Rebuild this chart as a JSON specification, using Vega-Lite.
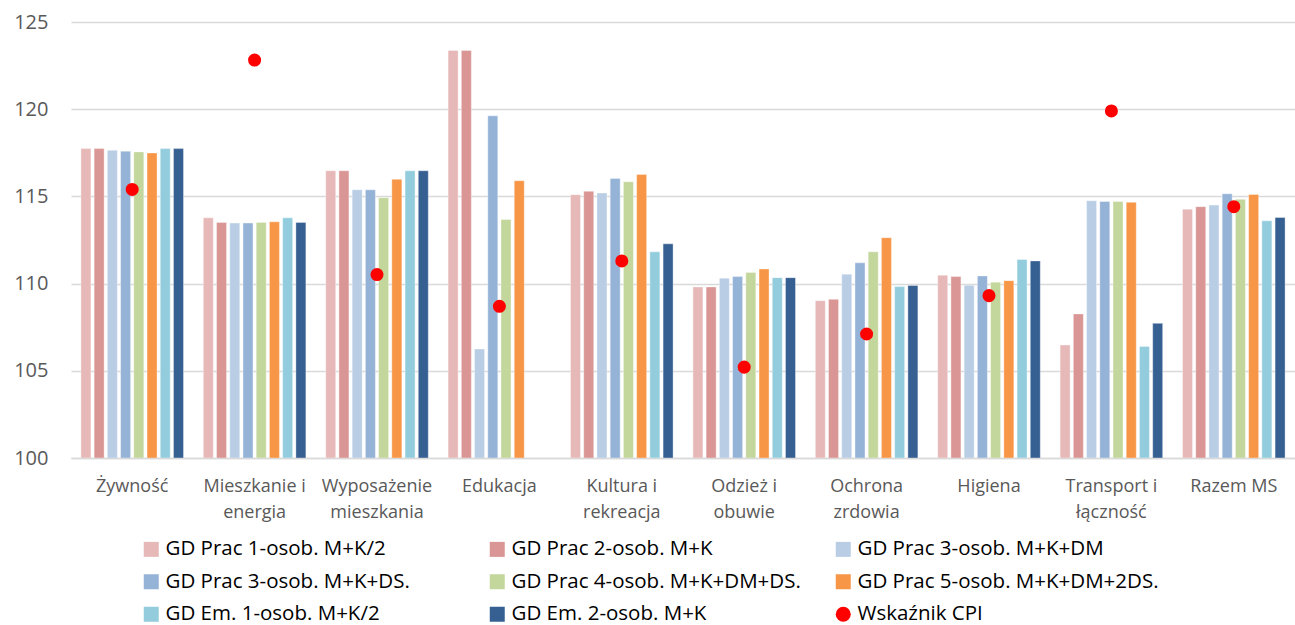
{
  "$schema": "https://vega.github.io/schema/vega-lite/v6.json",
  "width": 1224,
  "height": 436,
  "autosize": {"type": "none"},
  "padding": {"left": 71, "top": 22, "right": 0, "bottom": 167},
  "background": "white",
  "config": {"view": {"stroke": null}, "font": "Open Sans"},
  "data": {"values": [
    {"category": "Żywność", "series": "GD Prac 1-osob. M+K/2", "value": 117.74},
    {"category": "Żywność", "series": "GD Prac 2-osob. M+K", "value": 117.74},
    {"category": "Żywność", "series": "GD Prac 3-osob. M+K+DM", "value": 117.64},
    {"category": "Żywność", "series": "GD Prac 3-osob. M+K+DS.", "value": 117.59},
    {"category": "Żywność", "series": "GD Prac 4-osob. M+K+DM+DS.", "value": 117.55},
    {"category": "Żywność", "series": "GD Prac 5-osob. M+K+DM+2DS.", "value": 117.49},
    {"category": "Żywność", "series": "GD Em. 1-osob. M+K/2", "value": 117.74},
    {"category": "Żywność", "series": "GD Em. 2-osob. M+K", "value": 117.74},
    {"category": "Żywność", "series": "Wskaźnik CPI", "value": 115.40},
    {"category": "Mieszkanie i energia", "series": "GD Prac 1-osob. M+K/2", "value": 113.77},
    {"category": "Mieszkanie i energia", "series": "GD Prac 2-osob. M+K", "value": 113.51},
    {"category": "Mieszkanie i energia", "series": "GD Prac 3-osob. M+K+DM", "value": 113.47},
    {"category": "Mieszkanie i energia", "series": "GD Prac 3-osob. M+K+DS.", "value": 113.47},
    {"category": "Mieszkanie i energia", "series": "GD Prac 4-osob. M+K+DM+DS.", "value": 113.51},
    {"category": "Mieszkanie i energia", "series": "GD Prac 5-osob. M+K+DM+2DS.", "value": 113.54},
    {"category": "Mieszkanie i energia", "series": "GD Em. 1-osob. M+K/2", "value": 113.77},
    {"category": "Mieszkanie i energia", "series": "GD Em. 2-osob. M+K", "value": 113.51},
    {"category": "Mieszkanie i energia", "series": "Wskaźnik CPI", "value": 122.82},
    {"category": "Wyposażenie mieszkania", "series": "GD Prac 1-osob. M+K/2", "value": 116.47},
    {"category": "Wyposażenie mieszkania", "series": "GD Prac 2-osob. M+K", "value": 116.47},
    {"category": "Wyposażenie mieszkania", "series": "GD Prac 3-osob. M+K+DM", "value": 115.38},
    {"category": "Wyposażenie mieszkania", "series": "GD Prac 3-osob. M+K+DS.", "value": 115.38},
    {"category": "Wyposażenie mieszkania", "series": "GD Prac 4-osob. M+K+DM+DS.", "value": 114.92},
    {"category": "Wyposażenie mieszkania", "series": "GD Prac 5-osob. M+K+DM+2DS.", "value": 115.98},
    {"category": "Wyposażenie mieszkania", "series": "GD Em. 1-osob. M+K/2", "value": 116.47},
    {"category": "Wyposażenie mieszkania", "series": "GD Em. 2-osob. M+K", "value": 116.47},
    {"category": "Wyposażenie mieszkania", "series": "Wskaźnik CPI", "value": 110.52},
    {"category": "Edukacja", "series": "GD Prac 1-osob. M+K/2", "value": 123.37},
    {"category": "Edukacja", "series": "GD Prac 2-osob. M+K", "value": 123.37},
    {"category": "Edukacja", "series": "GD Prac 3-osob. M+K+DM", "value": 106.25},
    {"category": "Edukacja", "series": "GD Prac 3-osob. M+K+DS.", "value": 119.62},
    {"category": "Edukacja", "series": "GD Prac 4-osob. M+K+DM+DS.", "value": 113.68},
    {"category": "Edukacja", "series": "GD Prac 5-osob. M+K+DM+2DS.", "value": 115.90},
    {"category": "Edukacja", "series": "Wskaźnik CPI", "value": 108.70},
    {"category": "Kultura i rekreacja", "series": "GD Prac 1-osob. M+K/2", "value": 115.10},
    {"category": "Kultura i rekreacja", "series": "GD Prac 2-osob. M+K", "value": 115.29},
    {"category": "Kultura i rekreacja", "series": "GD Prac 3-osob. M+K+DM", "value": 115.19},
    {"category": "Kultura i rekreacja", "series": "GD Prac 3-osob. M+K+DS.", "value": 116.03},
    {"category": "Kultura i rekreacja", "series": "GD Prac 4-osob. M+K+DM+DS.", "value": 115.84},
    {"category": "Kultura i rekreacja", "series": "GD Prac 5-osob. M+K+DM+2DS.", "value": 116.26},
    {"category": "Kultura i rekreacja", "series": "GD Em. 1-osob. M+K/2", "value": 111.82},
    {"category": "Kultura i rekreacja", "series": "GD Em. 2-osob. M+K", "value": 112.28},
    {"category": "Kultura i rekreacja", "series": "Wskaźnik CPI", "value": 111.30},
    {"category": "Odzież i obuwie", "series": "GD Prac 1-osob. M+K/2", "value": 109.81},
    {"category": "Odzież i obuwie", "series": "GD Prac 2-osob. M+K", "value": 109.81},
    {"category": "Odzież i obuwie", "series": "GD Prac 3-osob. M+K+DM", "value": 110.31},
    {"category": "Odzież i obuwie", "series": "GD Prac 3-osob. M+K+DS.", "value": 110.40},
    {"category": "Odzież i obuwie", "series": "GD Prac 4-osob. M+K+DM+DS.", "value": 110.63},
    {"category": "Odzież i obuwie", "series": "GD Prac 5-osob. M+K+DM+2DS.", "value": 110.84},
    {"category": "Odzież i obuwie", "series": "GD Em. 1-osob. M+K/2", "value": 110.34},
    {"category": "Odzież i obuwie", "series": "GD Em. 2-osob. M+K", "value": 110.34},
    {"category": "Odzież i obuwie", "series": "Wskaźnik CPI", "value": 105.21},
    {"category": "Ochrona zrdowia", "series": "GD Prac 1-osob. M+K/2", "value": 109.02},
    {"category": "Ochrona zrdowia", "series": "GD Prac 2-osob. M+K", "value": 109.10},
    {"category": "Ochrona zrdowia", "series": "GD Prac 3-osob. M+K+DM", "value": 110.54},
    {"category": "Ochrona zrdowia", "series": "GD Prac 3-osob. M+K+DS.", "value": 111.19},
    {"category": "Ochrona zrdowia", "series": "GD Prac 4-osob. M+K+DM+DS.", "value": 111.82},
    {"category": "Ochrona zrdowia", "series": "GD Prac 5-osob. M+K+DM+2DS.", "value": 112.63},
    {"category": "Ochrona zrdowia", "series": "GD Em. 1-osob. M+K/2", "value": 109.83},
    {"category": "Ochrona zrdowia", "series": "GD Em. 2-osob. M+K", "value": 109.89},
    {"category": "Ochrona zrdowia", "series": "Wskaźnik CPI", "value": 107.11},
    {"category": "Higiena", "series": "GD Prac 1-osob. M+K/2", "value": 110.48},
    {"category": "Higiena", "series": "GD Prac 2-osob. M+K", "value": 110.40},
    {"category": "Higiena", "series": "GD Prac 3-osob. M+K+DM", "value": 109.90},
    {"category": "Higiena", "series": "GD Prac 3-osob. M+K+DS.", "value": 110.44},
    {"category": "Higiena", "series": "GD Prac 4-osob. M+K+DM+DS.", "value": 110.08},
    {"category": "Higiena", "series": "GD Prac 5-osob. M+K+DM+2DS.", "value": 110.17},
    {"category": "Higiena", "series": "GD Em. 1-osob. M+K/2", "value": 111.38},
    {"category": "Higiena", "series": "GD Em. 2-osob. M+K", "value": 111.30},
    {"category": "Higiena", "series": "Wskaźnik CPI", "value": 109.31},
    {"category": "Transport i łączność", "series": "GD Prac 1-osob. M+K/2", "value": 106.48},
    {"category": "Transport i łączność", "series": "GD Prac 2-osob. M+K", "value": 108.26},
    {"category": "Transport i łączność", "series": "GD Prac 3-osob. M+K+DM", "value": 114.75},
    {"category": "Transport i łączność", "series": "GD Prac 3-osob. M+K+DS.", "value": 114.71},
    {"category": "Transport i łączność", "series": "GD Prac 4-osob. M+K+DM+DS.", "value": 114.71},
    {"category": "Transport i łączność", "series": "GD Prac 5-osob. M+K+DM+2DS.", "value": 114.66},
    {"category": "Transport i łączność", "series": "GD Em. 1-osob. M+K/2", "value": 106.40},
    {"category": "Transport i łączność", "series": "GD Em. 2-osob. M+K", "value": 107.72},
    {"category": "Transport i łączność", "series": "Wskaźnik CPI", "value": 119.90},
    {"category": "Razem MS", "series": "GD Prac 1-osob. M+K/2", "value": 114.27},
    {"category": "Razem MS", "series": "GD Prac 2-osob. M+K", "value": 114.41},
    {"category": "Razem MS", "series": "GD Prac 3-osob. M+K+DM", "value": 114.50},
    {"category": "Razem MS", "series": "GD Prac 3-osob. M+K+DS.", "value": 115.15},
    {"category": "Razem MS", "series": "GD Prac 4-osob. M+K+DM+DS.", "value": 114.83},
    {"category": "Razem MS", "series": "GD Prac 5-osob. M+K+DM+2DS.", "value": 115.11},
    {"category": "Razem MS", "series": "GD Em. 1-osob. M+K/2", "value": 113.60},
    {"category": "Razem MS", "series": "GD Em. 2-osob. M+K", "value": 113.79},
    {"category": "Razem MS", "series": "Wskaźnik CPI", "value": 114.41}
  ]},
  "resolve": {"scale": {"color": "shared", "shape": "shared"}, "legend": {"color": "shared", "shape": "shared"}},
  "layer": [
    {
      "transform": [{"filter": "datum.series !== 'Wskaźnik CPI'"}],
      "mark": {"type": "bar", "clip": true, "stroke": "white", "strokeWidth": 0.6, "strokeOpacity": 0.6},
      "encoding": {
        "x": {
          "field": "category", "type": "nominal", "sort": null,
          "scale": {"paddingInner": 0.162, "paddingOuter": 0.081},
          "axis": {
            "title": null, "labelAngle": 0, "ticks": false,
            "domain": true, "domainColor": "#d9d9d9", "domainWidth": 1.5,
            "labelFontSize": 18, "labelColor": "#595959", "labelPadding": 19,
            "labelLineHeight": 26, "labelLimit": 300, "labelOverlap": false,
            "labelExpr": "datum.label == 'Razem MS' || indexof(datum.label, ' ') < 0 ? datum.label : [slice(datum.label, 0, lastindexof(datum.label, ' ')), slice(datum.label, lastindexof(datum.label, ' ') + 1)]"
          }
        },
        "xOffset": {
          "field": "series", "type": "nominal",
          "scale": {
            "domain": ["GD Prac 1-osob. M+K/2", "GD Prac 2-osob. M+K", "GD Prac 3-osob. M+K+DM", "GD Prac 3-osob. M+K+DS.", "GD Prac 4-osob. M+K+DM+DS.", "GD Prac 5-osob. M+K+DM+2DS.", "GD Em. 1-osob. M+K/2", "GD Em. 2-osob. M+K"],
            "paddingInner": 0.244, "paddingOuter": 0
          }
        },
        "y": {
          "field": "value", "type": "quantitative", "stack": null,
          "scale": {"domain": [100, 125], "zero": false, "nice": false},
          "axis": {
            "title": null, "values": [100, 105, 110, 115, 120, 125],
            "domain": false, "ticks": false,
            "grid": true, "gridColor": "#d9d9d9", "gridWidth": 1.5,
            "labelFontSize": 20, "labelColor": "#595959", "labelPadding": 23
          }
        },
        "y2": {"datum": 100},
        "color": {
          "field": "series", "type": "nominal",
          "scale": {
            "domain": ["GD Prac 1-osob. M+K/2", "GD Prac 2-osob. M+K", "GD Prac 3-osob. M+K+DM", "GD Prac 3-osob. M+K+DS.", "GD Prac 4-osob. M+K+DM+DS.", "GD Prac 5-osob. M+K+DM+2DS.", "GD Em. 1-osob. M+K/2", "GD Em. 2-osob. M+K", "Wskaźnik CPI"],
            "range": ["#E6B9B8", "#D99694", "#B9CDE5", "#95B3D7", "#C3D69B", "#F79646", "#93CDDD", "#376092", "#FF0000"]
          },
          "legend": {
            "title": null, "orient": "none", "legendX": 70, "legendY": 517,
            "direction": "horizontal", "columns": 3, "gridAlign": "all",
            "padding": 0, "columnPadding": 20, "rowPadding": 11.5,
            "symbolSize": 225, "symbolStrokeWidth": 0,
            "labelFontSize": 20.5, "labelColor": "#000000", "labelOffset": 4, "labelLimit": 500
          }
        }
      }
    },
    {
      "transform": [{"filter": "datum.series === 'Wskaźnik CPI'"}],
      "mark": {"type": "point", "filled": true, "size": 170, "opacity": 1},
      "encoding": {
        "x": {"field": "category", "type": "nominal", "sort": null},
        "y": {"field": "value", "type": "quantitative", "scale": {"domain": [100, 125], "zero": false, "nice": false}},
        "color": {"field": "series", "type": "nominal"},
        "shape": {
          "field": "series", "type": "nominal",
          "scale": {
            "domain": ["GD Prac 1-osob. M+K/2", "GD Prac 2-osob. M+K", "GD Prac 3-osob. M+K+DM", "GD Prac 3-osob. M+K+DS.", "GD Prac 4-osob. M+K+DM+DS.", "GD Prac 5-osob. M+K+DM+2DS.", "GD Em. 1-osob. M+K/2", "GD Em. 2-osob. M+K", "Wskaźnik CPI"],
            "range": ["square", "square", "square", "square", "square", "square", "square", "square", "circle"]
          },
          "legend": {
            "title": null, "orient": "none", "legendX": 70, "legendY": 517,
            "direction": "horizontal", "columns": 3, "gridAlign": "all",
            "padding": 0, "columnPadding": 20, "rowPadding": 11.5,
            "symbolSize": 225, "symbolStrokeWidth": 0,
            "labelFontSize": 20.5, "labelColor": "#000000", "labelOffset": 4, "labelLimit": 500
          }
        }
      }
    }
  ]
}
